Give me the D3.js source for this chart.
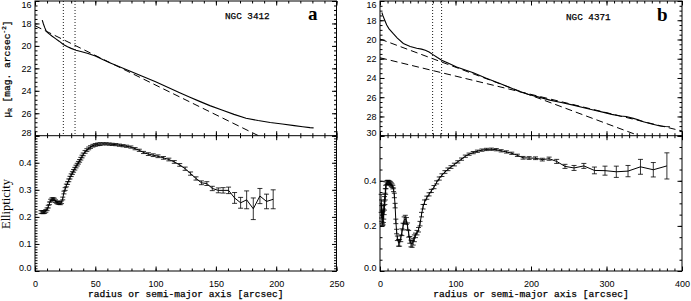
<!DOCTYPE html>
<html>
<head>
<meta charset="utf-8">
<script src="https://cdn.jsdelivr.net/npm/d3@7"></script>
<style>
  html, body { margin: 0; padding: 0; background: #fff; }
  svg { display: block; }
  .tick text { font-family: "Liberation Sans", Arial, sans-serif; font-size: 9px; fill: #000; }
  .mono { font-family: "Liberation Mono", "DejaVu Sans Mono", monospace; fill: #000; stroke: #000; stroke-width: 0.25; }
</style>
</head>
<body>
<svg id="chart" width="691" height="301"></svg>
<script>
// tick labels
const xTicksA = [0, 50, 100, 150, 200, 250]
const xTicksB = [0, 100, 200, 300, 400]
const muTicksA = [16, 18, 20, 22, 24, 26, 28]
const muTicksB = [16, 18, 20, 22, 24, 26, 28, 30]
const ellTicksA = [0, 0.1, 0.2, 0.3, 0.4]
const ellTicksB = [0, 0.2, 0.4]

// NGC 3412: surface brightness profile
const profA_r = [6, 7, 8, 9, 10, 12, 14, 17, 20, 23.5, 27, 30, 34, 38, 44, 50, 57, 62, 70, 80,
  90, 100, 110, 120, 128, 136, 145, 155, 165, 175, 185, 195, 205, 215, 222, 228, 231]
const profA_mu = [17.7, 18.05, 18.35, 18.6, 18.78, 18.95, 19.12, 19.35, 19.58, 19.87, 20.07, 20.22, 20.38, 20.5, 20.67, 20.9, 21.26, 21.5, 21.85, 22.3,
  22.75, 23.2, 23.68, 24.17, 24.55, 24.92, 25.32, 25.72, 26.1, 26.45, 26.65, 26.82, 26.96, 27.1, 27.2, 27.28, 27.3]
// disk fit (end points) and isophote cuts
const diskA_r = [0, 190]
const diskA_mu = [18.2, 28.25]
const cutsA = [23.5, 33.2]

// NGC 4371: surface brightness profile
const profB_r = [2.5, 4, 6, 8.9, 12, 17.6, 23, 30.9, 40, 48.6, 55, 60, 65, 70.6, 76, 81.7, 90, 101.5, 112, 123.6,
  140, 158.8, 172, 185.3, 198, 211.9, 225, 240, 256, 270, 282.5, 295, 307, 317.9, 326, 335.5, 342, 348.8, 360, 371, 378, 384]
const profB_mu = [17.2, 17.55, 17.95, 18.5, 18.9, 19.4, 19.85, 20.42, 20.72, 20.92, 21.0, 21.12, 21.3, 21.6, 21.88, 22.15, 22.45, 22.85, 23.15, 23.46,
  24.0, 24.57, 25.0, 25.43, 25.75, 26.02, 26.3, 26.55, 26.82, 27.1, 27.33, 27.55, 27.78, 27.96, 28.0, 28.2, 28.35, 28.55, 28.78, 29.0, 29.05, 29.07]
const diskB1_r = [0, 400]
const diskB1_mu = [19.95, 31.67]
const diskB2_r = [0, 400]
const diskB2_mu = [21.9, 29.51]
const cutsB = [69.7, 81.6]

// NGC 3412: ellipticity
const ellA_r = [5, 6, 7, 8, 9, 10, 11, 12, 13, 14, 15, 16, 17, 18, 19, 20, 21, 22, 23, 24, 25, 26, 27, 28, 29, 30, 31, 32, 33, 34, 35, 36, 37, 38, 39, 40,
  41.5, 43, 44.5, 46, 48, 50, 52, 54,
  56.5, 59, 61.5, 64, 67, 70, 73, 76, 79.5, 83, 86.5, 90, 94, 98, 102, 106.5, 111, 115.5, 120,
  124.5, 129, 133.5, 138, 142.5, 147, 152, 156, 160.5, 165.5, 170.5, 175.5, 181, 186.5, 192, 197.5]
const ellA_e = [.218, .217, .217, .218, .222, .228, .238, .250, .260, .265, .266, .264, .258, .254, .252, .251, .250, .254, .268, .290, .303, .316, .325, .335, .345, .354, .362, .370, .378, .386, .393, .400, .407, .415, .423, .431,
  .440, .447, .453, .458, .463, .466, .468, .469,
  .470, .470, .469, .468, .467, .465, .463, .461, .458, .452, .446, .438, .432, .428, .424, .418, .412, .403, .392,
  .378, .360, .342, .326, .323, .305, .298, .298, .298, .270, .252, .263, .230, .277, .257, .265]
const ellA_err = [.005, .005, .005, .005, .005, .005, .005, .005, .005, .005, .005, .005, .005, .005, .005, .005, .005, .005, .005, .005, .005, .005, .005, .005, .005, .005, .005, .005, .005, .005, .005, .005, .005, .005, .005, .005,
  .005, .005, .005, .005, .005, .005, .005, .005,
  .004, .004, .004, .004, .004, .004, .004, .004, .004, .004, .004, .004, .005, .005, .005, .005, .005, .005, .005,
  .006, .006, .006, .007, .007, .008, .009, .010, .012, .020, .020, .033, .040, .028, .027, .035]

// NGC 4371: ellipticity
const ellB_r = [1.5, 2, 2.5, 3, 3.5, 4, 4.5, 5, 5.5, 6, 6.5, 7, 7.5, 8,
  9, 10, 11, 12, 13, 14, 15, 16, 17, 18, 19, 20, 21, 22, 23,
  24.5, 26, 27.5, 29, 30.5, 32, 33.5, 35, 36.5, 38, 39.5, 41, 42.5, 44, 45.5,
  47, 49, 51, 53, 55, 57, 59,
  62, 65, 68, 71.5, 75, 78.5, 82, 86, 90, 94, 98.5, 103, 108, 113, 118, 123.5, 129, 135, 141, 147.5,
  154, 160.5, 167.5, 174.5, 182, 189.5, 197.5, 206, 215, 224, 234, 245, 257, 270, 284, 298, 313, 328.5, 345, 362, 380]
const ellB_e = [.300, .275, .255, .240, .232, .235, .245, .260, .280, .300, .320, .340, .360, .380,
  .392, .394, .394, .392, .390, .387, .383, .378, .372, .360, .335, .290, .220, .175, .145,
  .125, .125, .145, .172, .197, .225, .232, .222, .198, .165, .138, .122, .120, .130, .145,
  .158, .170, .183, .210, .250, .285, .305,
  .325, .340, .355, .372, .393, .410, .425, .439, .451, .461, .472, .484, .496, .509, .518, .525, .531, .536, .539, .540,
  .538, .533, .528, .522, .513, .502, .501, .500, .494, .498, .486, .464, .457, .466, .446, .445, .440, .443, .462, .449, .466]
const ellB_err = [.040, .040, .035, .030, .030, .030, .030, .030, .030, .030, .025, .025, .020, .015,
  .008, .008, .008, .008, .008, .008, .008, .008, .008, .008, .010, .010, .010, .010, .010,
  .015, .015, .015, .015, .015, .015, .015, .015, .015, .015, .015, .015, .015, .015, .015,
  .010, .010, .010, .010, .010, .010, .010,
  .007, .007, .007, .007, .007, .007, .006, .006, .006, .006, .006, .005, .005, .005, .005, .005, .005, .005, .005, .005,
  .005, .005, .005, .005, .005, .006, .006, .006, .006, .007, .009, .009, .011, .011, .015, .020, .025, .025, .033, .032, .058]

const TOP = 1, MID = 135.7, BOT = 271

const svg = d3.select('#chart')

const panels = [
  {
    id: 'a', name: 'NGC 3412',
    x: d3.scaleLinear([0, 250], [35, 336.5]),
    mu: d3.scaleLinear([16, 28], [TOP, MID]),
    ell: d3.scaleLinear([0, 0.5], [BOT, MID]),
    xTicks: xTicksA, xMinor: 10, muTicks: muTicksA, muMinor: 0.4,
    ellTicks: ellTicksA, ellMinor: 0.01, ellFmt: d3.format('.1f'),
    prof: [profA_r, profA_mu], disks: [[diskA_r, diskA_mu]], cuts: cutsA,
    ellData: [ellA_r, ellA_e, ellA_err],
    namePos: [225, 18.5], letterPos: [308, 20]
  },
  {
    id: 'b', name: 'NGC 4371',
    x: d3.scaleLinear([0, 400], [380, 682]),
    mu: d3.scaleLinear([16, 30], [TOP, MID]),
    ell: d3.scaleLinear([0, 0.6], [BOT, MID]),
    xTicks: xTicksB, xMinor: 10, muTicks: muTicksB, muMinor: 0.5,
    ellTicks: ellTicksB, ellMinor: 0.05, ellFmt: d3.format('.1f'),
    prof: [profB_r, profB_mu], disks: [[diskB1_r, diskB1_mu], [diskB2_r, diskB2_mu]], cuts: cutsB,
    ellData: [ellB_r, ellB_e, ellB_err],
    namePos: [566, 20], letterPos: [657, 21]
  }
]

const makers = {left: d3.axisLeft, right: d3.axisRight, top: d3.axisTop, bottom: d3.axisBottom}

function drawAxis(orient, scale, pos, major, minorStep, fmt) {
  const vertical = orient === 'left' || orient === 'right'
  const tr = vertical ? `translate(${pos},0)` : `translate(0,${pos})`
  const [d0, d1] = scale.domain()
  const minor = d3.range(d0, d1 + minorStep / 2, minorStep).map(v => +v.toFixed(4))
  svg.append('g').attr('transform', tr)
    .call(makers[orient](scale).tickValues(minor).tickSize(-2.5).tickFormat(''))
    .call(g => g.select('.domain').remove())
  const g = svg.append('g').attr('transform', tr)
    .call(makers[orient](scale).tickValues(major).tickSize(-4.5)
      .tickPadding(orient === 'bottom' ? 9.6 : 3.5)
      .tickFormat(fmt || ''))
  g.select('.domain').remove()
  g.attr('font-size', null).attr('font-family', null)
  g.selectAll('line').attr('stroke', '#000')
  if (vertical) {
    // edge labels sit slightly inside the frame
    g.selectAll('.tick text').attr('y', d => {
      const py = scale(d)
      if (py < TOP + 2) return 4
      if (Math.abs(py - MID) < 1 || Math.abs(py - BOT) < 1) return -3
      return 0
    })
  }
  return g
}

panels.forEach(p => {
  const [xl, xr] = p.x.range()
  const clipId = 'clip-' + p.id
  svg.append('clipPath').attr('id', clipId)
    .append('rect').attr('x', xl).attr('y', TOP).attr('width', xr - xl).attr('height', MID - TOP)

  // --- top: surface brightness
  const top = svg.append('g').attr('clip-path', `url(#${clipId})`)
  top.selectAll('line.cut').data(p.cuts).join('line').attr('class', 'cut')
    .attr('x1', d => p.x(d)).attr('x2', d => p.x(d))
    .attr('y1', TOP).attr('y2', MID)
    .attr('stroke', '#000').attr('stroke-width', 0.9).attr('stroke-dasharray', '1,2')

  const muLine = d3.line().x(d => p.x(d[0])).y(d => p.mu(d[1]))
  top.selectAll('path.disk').data(p.disks).join('path').attr('class', 'disk')
    .attr('d', d => muLine(d3.zip(d[0], d[1])))
    .attr('fill', 'none').attr('stroke', '#000').attr('stroke-width', 1)
    .attr('stroke-dasharray', '7,4')

  top.append('path').datum(d3.zip(p.prof[0], p.prof[1]))
    .attr('d', muLine)
    .attr('fill', 'none').attr('stroke', '#000').attr('stroke-width', 1.1)

  // --- bottom: ellipticity with error bars
  const [er, ee, es] = p.ellData
  const pts = er.map((r, i) => ({r, e: ee[i], s: es[i]}))
  svg.append('path').datum(pts)
    .attr('d', d3.line().x(d => p.x(d.r)).y(d => p.ell(d.e)))
    .attr('fill', 'none').attr('stroke', '#000').attr('stroke-width', 1)
  svg.append('g').attr('stroke', '#000').attr('stroke-width', 0.8).attr('fill', 'none')
    .selectAll('path').data(pts).join('path')
    .attr('d', d => {
      const cx = p.x(d.r), y0 = p.ell(d.e - d.s), y1 = p.ell(d.e + d.s)
      return `M${cx},${y0}V${y1}M${cx - 2.5},${y0}h5M${cx - 2.5},${y1}h5`
    })

  // --- axes
  drawAxis('left', p.mu, xl, p.muTicks, p.muMinor, d3.format('d'))
  drawAxis('right', p.mu, xr, p.muTicks, p.muMinor, null)
  drawAxis('left', p.ell, xl, p.ellTicks.concat(p.ell.domain()[1]), p.ellMinor,
    d => d > p.ellTicks[p.ellTicks.length - 1] + 1e-9 ? '' : p.ellFmt(d))
  drawAxis('right', p.ell, xr, p.ellTicks.concat(p.ell.domain()[1]), p.ellMinor, null)
  drawAxis('top', p.x, TOP, p.xTicks, p.xMinor, null)
  drawAxis('bottom', p.x, MID, p.xTicks, p.xMinor, null)
  drawAxis('top', p.x, MID, p.xTicks, p.xMinor, null)
  drawAxis('bottom', p.x, BOT, p.xTicks, p.xMinor, d3.format('d'))

  // frames
  svg.append('rect').attr('x', xl).attr('y', TOP).attr('width', xr - xl).attr('height', BOT - TOP)
    .attr('fill', 'none').attr('stroke', '#000').attr('stroke-width', 1)
  svg.append('line').attr('x1', xl).attr('x2', xr).attr('y1', MID).attr('y2', MID)
    .attr('stroke', '#000').attr('stroke-width', 1)

  // annotations
  svg.append('text').attr('class', 'mono').attr('x', p.namePos[0]).attr('y', p.namePos[1])
    .attr('font-size', 9.3).text(p.name)
  svg.append('text').attr('x', p.letterPos[0]).attr('y', p.letterPos[1])
    .attr('font-family', '"Liberation Serif", "Times New Roman", serif')
    .attr('font-weight', 'bold').attr('font-size', 19).text(p.id)

  svg.append('text').attr('class', 'mono').attr('font-size', 9.6)
    .attr('x', (xl + xr) / 2).attr('y', 297).attr('text-anchor', 'middle')
    .text('radius or semi-major axis [arcsec]')
})

// y axis titles (left panel only)
const muTitle = svg.append('text').attr('class', 'mono').attr('font-size', 9.6)
  .attr('transform', 'translate(9.5,69) rotate(-90)').attr('text-anchor', 'middle')
muTitle.append('tspan').text('μ')
muTitle.append('tspan').attr('font-size', 6).attr('dy', 2).text('R')
muTitle.append('tspan').attr('dy', -2).text(' [mag. arcsec')
muTitle.append('tspan').attr('font-size', 6).attr('dy', -4).text('-2')
muTitle.append('tspan').attr('dy', 4).text(']')

svg.append('text').attr('transform', 'translate(10,204) rotate(-90)')
  .attr('text-anchor', 'middle')
  .attr('font-family', '"Liberation Serif", "Times New Roman", serif')
  .attr('font-size', 12.5).text('Ellipticity')
</script>
</body>
</html>
